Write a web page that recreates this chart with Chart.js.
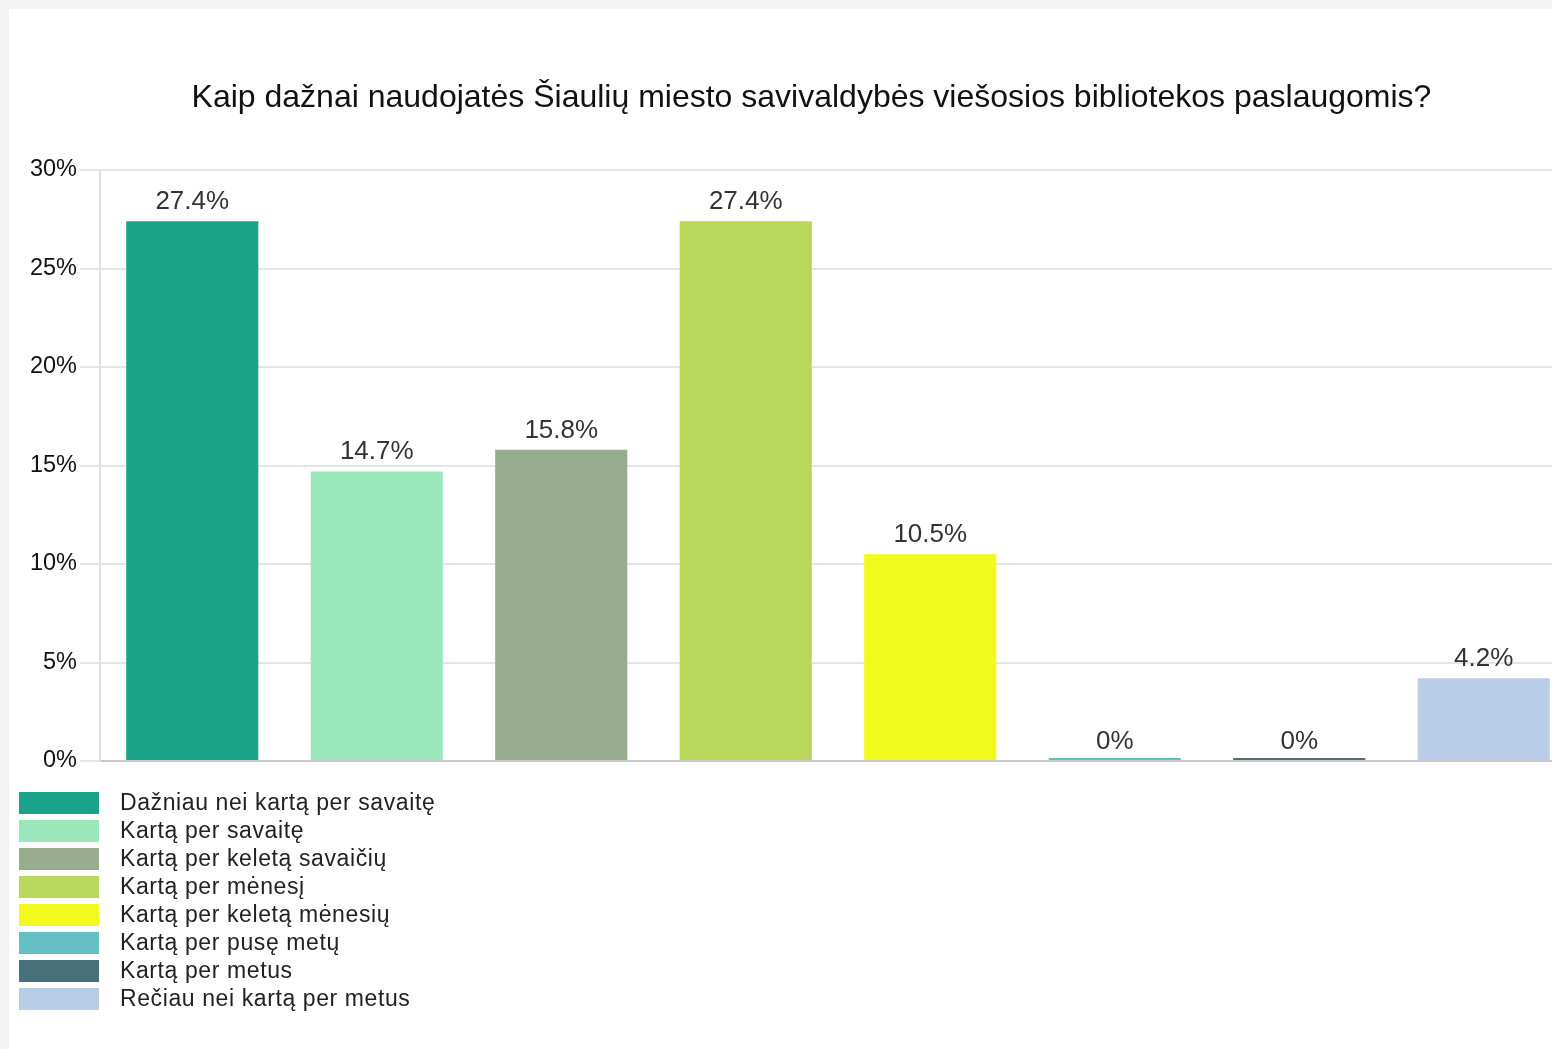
<!DOCTYPE html>
<html>
<head>
<meta charset="utf-8">
<script src="https://cdn.jsdelivr.net/npm/chart.js@4/dist/chart.umd.min.js"></script>
<style>
  html, body { margin: 0; padding: 0; background: #f3f3f3; overflow: hidden; width: 1552px; height: 1049px; }
  #wrap { position: absolute; left: 9px; top: 9px; width: 1605px; height: 1040px; background: #ffffff; }
  canvas { display: block; }
</style>
</head>
<body>
<div id="wrap"><canvas id="c" width="1605" height="1040"></canvas></div>
<script>
const titleText = 'Kaip dažnai naudojatės Šiaulių miesto savivaldybės viešosios bibliotekos paslaugomis?';
const categories = [
  'Dažniau nei kartą per savaitę',
  'Kartą per savaitę',
  'Kartą per keletą savaičių',
  'Kartą per mėnesį',
  'Kartą per keletą mėnesių',
  'Kartą per pusę metų',
  'Kartą per metus',
  'Rečiau nei kartą per metus'
];
const values = [27.4, 14.7, 15.8, 27.4, 10.5, 0, 0, 4.2];
const valueLabels = ['27.4%', '14.7%', '15.8%', '27.4%', '10.5%', '0%', '0%', '4.2%'];
const colors = ['#1ba38a', '#99e7bb', '#97ad8d', '#b9d75a', '#f2f91c', '#65c0c3', '#48707b', '#b8cde8'];
const yTicks = [0, 5, 10, 15, 20, 25, 30];

const FONT = '"Liberation Sans", Arial, sans-serif';

const titleShiftPlugin = {
  id: 'titleShift',
  afterLayout(chart) {
    const t = chart.titleBlock;
    if (t) { t.left = 0; t.right = chart.width; }
  }
};

const valueLabelPlugin = {
  id: 'valueLabels',
  afterDatasetsDraw(chart) {
    const ctx = chart.ctx;
    const meta = chart.getDatasetMeta(0);
    const yScale = chart.scales.y;
    ctx.save();
    ctx.font = '26px ' + FONT;
    ctx.fillStyle = '#333333';
    ctx.textAlign = 'center';
    ctx.textBaseline = 'alphabetic';
    meta.data.forEach((bar, i) => {
      ctx.fillText(valueLabels[i], bar.x, yScale.getPixelForValue(values[i]) - 12);
    });
    ctx.restore();
  }
};

const legendPlugin = {
  id: 'customLegend',
  afterDraw(chart) {
    const ctx = chart.ctx;
    ctx.save();
    ctx.font = '23px ' + FONT;
    if ('letterSpacing' in ctx) ctx.letterSpacing = '0.6px';
    ctx.textBaseline = 'middle';
    ctx.textAlign = 'left';
    const x0 = 10, y0 = 794, pitch = 28;
    categories.forEach((label, i) => {
      const cy = y0 + i * pitch;
      ctx.fillStyle = colors[i];
      ctx.fillRect(x0, cy - 11, 80, 22);
      ctx.fillStyle = '#222222';
      ctx.fillText(label, x0 + 101, cy + 1);
    });
    ctx.restore();
  }
};

new Chart(document.getElementById('c'), {
  type: 'bar',
  data: {
    labels: categories,
    datasets: [{
      data: values,
      backgroundColor: colors,
      borderWidth: 0,
      categoryPercentage: 1.0,
      barPercentage: 0.716,
      minBarLength: 3
    }]
  },
  plugins: [titleShiftPlugin, valueLabelPlugin, legendPlugin],
  options: {
    responsive: false,
    animation: false,
    devicePixelRatio: 1,
    layout: { padding: { left: 0, right: 38, top: 0, bottom: 280 } },
    plugins: {
      legend: { display: false },
      tooltip: { enabled: false },
      title: {
        display: true,
        text: titleText,
        color: '#111111',
        font: { family: FONT, size: 32, weight: 'normal' },
        padding: { top: 70, bottom: 52.6 }
      }
    },
    scales: {
      x: {
        grid: { display: false },
        border: { display: true, color: '#c8c8c8', width: 2 },
        ticks: { display: false }
      },
      y: {
        min: 0,
        max: 30,
        afterBuildTicks(scale) { scale.ticks = yTicks.map(v => ({ value: v })); },
        afterFit(scale) { scale.width = 91; },
        ticks: {
          stepSize: 5,
          padding: 3,
          color: '#111111',
          font: { family: FONT, size: 23.5 },
          callback: v => v + '%'
        },
        grid: { color: '#e4e4e4', lineWidth: 2, tickLength: 20, drawTicks: true },
        border: { display: true, color: '#e0e0e0', width: 2 }
      }
    }
  }
});
</script>
</body>
</html>
